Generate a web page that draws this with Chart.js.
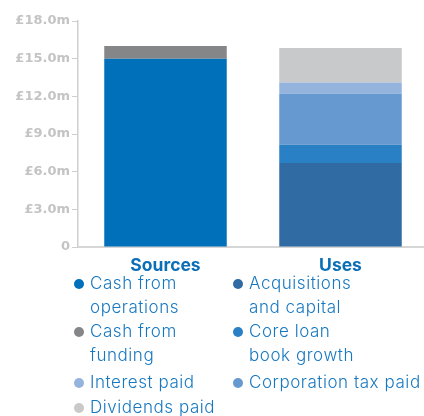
<!DOCTYPE html>
<html>
<head>
<meta charset="utf-8">
<script src="https://cdn.jsdelivr.net/npm/chart.js@4"></script>
<style>
  body { margin: 0; background: #fff; font-family: Inter, "Open Sans", sans-serif; }
  #wrap { position: relative; width: 424px; height: 416px; overflow: hidden; }
  #chartBox { position: absolute; left: 0; top: 0; width: 428px; height: 275px; }
  #legend {
    position: absolute; left: 74px; top: 272px;
    display: grid; grid-template-columns: 159px auto; row-gap: 1px;
    font-size: 17px; line-height: 23.5px; color: #1778c0; font-weight: 300;
    letter-spacing: 0.55px;
  }
  .item { position: relative; padding-left: 16px; white-space: pre; }
  .item.gap { margin-top: 3px; }
  .dot { position: absolute; left: 0; top: 7px; width: 10px; height: 10px; border-radius: 50%; }
</style>
</head>
<body>
<div id="wrap">
  <div id="chartBox"><canvas id="myChart"></canvas></div>
  <div id="legend"></div>
</div>
<script>
// donnees (en £m)
const categories = ['Sources', 'Uses'];
const cashFromOperations = [15.0, null];
const cashFromFunding = [1.0, null];
const acquisitions = [null, 6.7];
const coreLoanGrowth = [null, 1.45];
const corporationTax = [null, 4.05];
const interestPaid = [null, 0.9];
const dividendsPaid = [null, 2.75];
const yTicks = [0, 3, 6, 9, 12, 15, 18];

// ordre d'empilement (bas -> haut)
var datasets = [
  { label: 'Cash from\noperations', data: cashFromOperations, backgroundColor: '#0070bb' },
  { label: 'Cash from\nfunding', data: cashFromFunding, backgroundColor: '#858688' },
  { label: 'Acquisitions\nand capital', data: acquisitions, backgroundColor: '#306ba3' },
  { label: 'Core loan\nbook growth', data: coreLoanGrowth, backgroundColor: '#2a80c4' },
  { label: 'Corporation tax paid', data: corporationTax, backgroundColor: '#6699cf' },
  { label: 'Interest paid', data: interestPaid, backgroundColor: '#94b4de' },
  { label: 'Dividends paid', data: dividendsPaid, backgroundColor: '#c8c9cb' }
];
datasets.forEach(function(d){
  d.barPercentage = 0.70;
  d.categoryPercentage = 1;
});

// ordre de la legende
var legendOrder = [0, 2, 1, 3, 5, 4, 6];

function fmt(v){
  if (v == 0) return '0';
  return '£' + v.toFixed(1) + 'm';
}

var config = {
  type: 'bar',
  data: { labels: categories, datasets: datasets },
  options: {
    responsive: true,
    maintainAspectRatio: false,
    animation: false,
    layout: { padding: { top: 21, right: 0, left: 0, bottom: 0 } },
    plugins: { legend: { display: false }, tooltip: { enabled: false } },
    scales: {
      x: {
        stacked: true,
        grid: { display: false, drawTicks: false },
        border: { display: true, color: '#d6d6d6', width: 2 },
        ticks: { color: '#0b6fb8', padding: 8, font: { family: 'Inter', size: 17.5, weight: 'bold' } },
        afterFit: function(scale){ scale.height = 28; }
      },
      y: {
        stacked: true,
        min: 0,
        max: 18,
        afterBuildTicks: function(scale){
          scale.ticks = yTicks.map(function(v){ return { value: v }; });
        },
        grid: { display: true, drawOnChartArea: false, drawTicks: true, tickLength: 6, color: '#cfcfcf' },
        border: { display: true, color: '#cfcfcf', width: 1.5 },
        ticks: {
          color: '#c4c4c4', padding: 2,
          font: { family: 'DejaVu Sans', size: 13, weight: 'bold' },
          callback: function(v){ return fmt(v); }
        },
        afterFit: function(scale){ scale.width = 78; }
      }
    }
  }
};

var myChart = new Chart(document.getElementById('myChart'), config);

// legende HTML
var legend = document.getElementById('legend');
legendOrder.forEach(function(i, k){
  var item = document.createElement('div');
  item.className = 'item';
  if (k == 4 || k == 5) item.className += ' gap';
  var dot = document.createElement('span');
  dot.className = 'dot';
  dot.style.background = datasets[i].backgroundColor;
  item.appendChild(dot);
  item.appendChild(document.createTextNode(datasets[i].label));
  legend.appendChild(item);
});
</script>
</body>
</html>
